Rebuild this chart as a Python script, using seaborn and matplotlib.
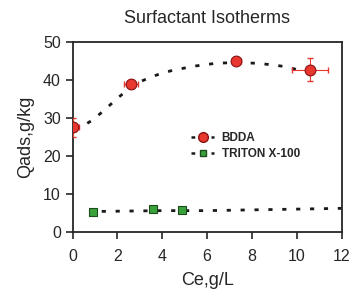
import numpy as np
import pandas as pd
import seaborn as sns
import matplotlib.pyplot as plt

# measured points
bdda_x = [0.0, 2.6, 7.3, 10.6]
bdda_y = [27.5, 39.0, 45.0, 42.7]
bdda_xerr = [0.3, 0.3, 0.2, 0.8]
bdda_yerr = [2.5, 1.0, 0.5, 3.0]

triton_x = [0.9, 3.6, 4.9]
triton_y = [5.3, 6.0, 5.8]

# fitted curves
bdda_fit_x = [0.1, 0.5, 0.95, 1.5, 2.0, 2.5, 3.0, 3.5, 4.0, 4.5, 5.5, 6.4, 7.3, 8.2, 8.9, 9.5, 10.1]
bdda_fit_y = [27.0, 28.0, 29.7, 32.5, 35.2, 37.6, 39.5, 40.8, 41.8, 42.6, 43.7, 44.4, 44.6, 44.4, 44.0, 43.5, 42.6]
triton_fit_x = [1.3, 4.0, 6.0, 8.0, 10.0, 12.0]
triton_fit_y = [5.4, 5.6, 5.6, 5.8, 6.0, 6.2]

sns.set_style("ticks")
plt.rcParams["font.family"] = ["Liberation Sans", "DejaVu Sans"]

red = "#e8372f"
green = "#3aa23a"
dots = (0, (1.5, 3.5))

fig, ax = plt.subplots(figsize=(3.54, 3.0), dpi=100)

sns.lineplot(x=bdda_fit_x, y=bdda_fit_y, ax=ax, color="#1a1a1a", lw=2.0,
             linestyle=dots, sort=False)
sns.lineplot(x=triton_fit_x, y=triton_fit_y, ax=ax, color="#1a1a1a", lw=2.0,
             linestyle=dots, sort=False)

ax.errorbar(bdda_x, bdda_y, xerr=bdda_xerr, yerr=bdda_yerr, fmt="none",
            ecolor=red, elinewidth=0.8, capsize=2, zorder=3)
sns.scatterplot(x=bdda_x, y=bdda_y, ax=ax, marker="o", s=60, color=red,
                edgecolor="#8a1010", linewidth=0.8, zorder=4)
sns.scatterplot(x=triton_x, y=triton_y, ax=ax, marker="s", s=30, color=green,
                edgecolor="#1d4d1d", linewidth=0.8, zorder=4)

# legend handles
h1, = ax.plot([], [], color="#1a1a1a", lw=1.8, linestyle=(0, (1.5, 2.5)), marker="o",
              markersize=7, markerfacecolor=red, markeredgecolor="#8a1010")
h2, = ax.plot([], [], color="#1a1a1a", lw=1.8, linestyle=(0, (1.5, 2.5)), marker="s",
              markersize=5, markerfacecolor=green, markeredgecolor="#1d4d1d")
ax.legend([h1, h2], ["BDDA", "TRITON X-100"], loc="upper left",
          bbox_to_anchor=(0.40, 0.58), frameon=False,
          handlelength=2.0, handletextpad=0.6, labelspacing=0.3,
          prop={"weight": "bold", "size": 8.5})

ax.set_xlim(0, 12)
ax.set_ylim(0, 50)
ax.set_xticks(range(0, 13, 2))
ax.set_yticks(range(0, 51, 10))
ax.tick_params(labelsize=11.5, length=5, width=1.2, direction="out")
ax.tick_params(axis="x", pad=7)
for s in ax.spines.values():
    s.set_linewidth(1.3)
    s.set_visible(True)

ax.set_title("Surfactant Isotherms", fontsize=13, pad=14)
ax.set_xlabel("Ce,g/L", fontsize=13, labelpad=6)
ax.set_ylabel("Qads,g/kg", fontsize=13, labelpad=6)

fig.subplots_adjust(left=0.205, right=0.965, top=0.86, bottom=0.227)
fig.savefig("out.png", dpi=100)
